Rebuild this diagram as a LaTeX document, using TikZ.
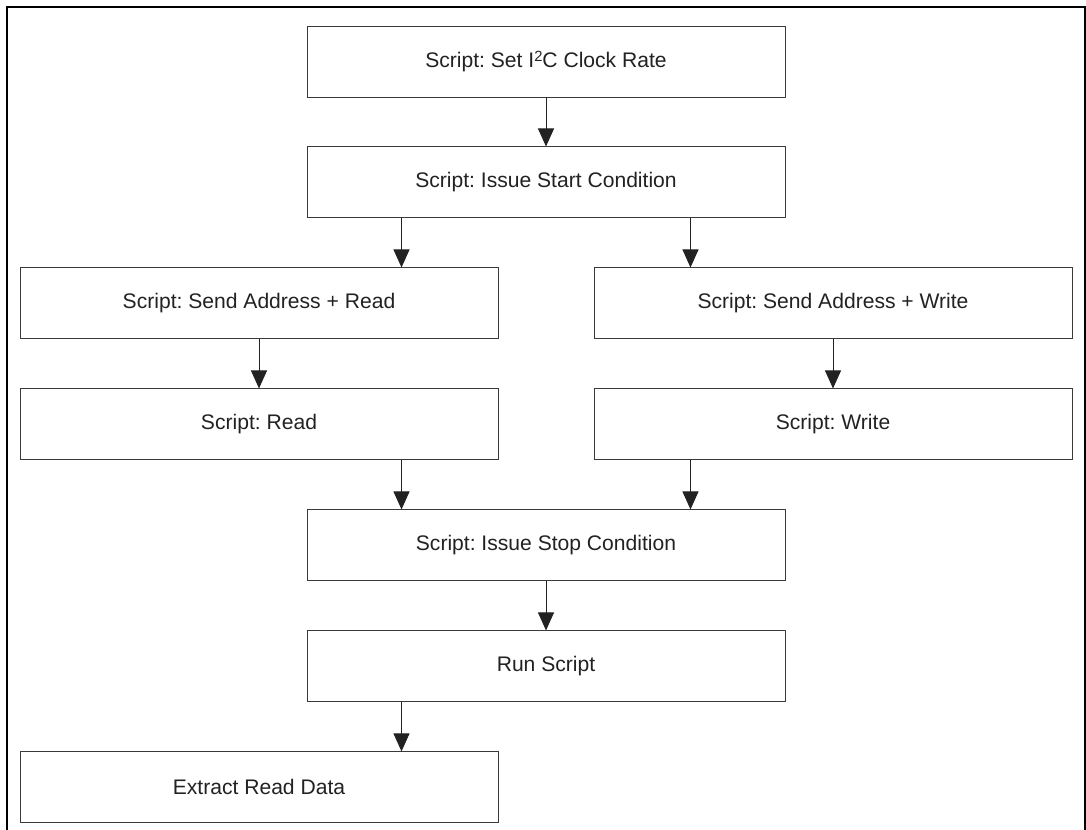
\documentclass[tikz,border=0pt]{standalone}
\usepackage{fontspec}
\setsansfont{Liberation Sans}
\usepackage{xcolor}
\usepackage{tikz}
\usetikzlibrary{arrows.meta, positioning, calc}
\definecolor{boxline}{HTML}{3A3A3A}
\definecolor{textdark}{HTML}{222222}
\frenchspacing

\begin{document}
\begin{tikzpicture}[
  node distance=1.225cm,
  stepbox/.style={rectangle, draw=boxline, line width=0.7pt, minimum width=11.95cm, minimum height=1.775cm, text=textdark, font=\fontsize{15}{18}\selectfont\sffamily},
  arrow/.style={-{Triangle[width=0.4cm, length=0.45cm]}, line width=0.7pt, color=textdark}
]
  \useasboundingbox (0,0) rectangle (27.15,-20.75);

  % Outer frame (open at the bottom)
  \draw[line width=1.6pt] (0.175,-20.8) -- (0.175,-0.175) -- (27.125,-0.175) -- (27.125,-20.8);

  % Main column
  \node[stepbox] (clock) at (13.65,-1.5375) {Script: Set I\raisebox{0.28em}{\fontsize{10.5}{12}\selectfont 2}C Clock Rate};
  \node[stepbox, below=of clock] (start) {Script: Issue Start Condition};

  % Read branch and write branch
  \node[stepbox, below=of start, xshift=-7.175cm] (addrread) {Script: Send Address + Read};
  \node[stepbox, below=of start, xshift=7.175cm] (addrwrite) {Script: Send Address + Write};
  \node[stepbox, below=of addrread] (read) {Script: Read};
  \node[stepbox, below=of addrwrite] (write) {Script: Write};

  % Back to the main column
  \node[stepbox, below=of read, xshift=7.175cm] (stop) {Script: Issue Stop Condition};
  \node[stepbox, below=of stop] (run) {Run Script};
  \node[stepbox, below=of run, xshift=-7.175cm] (extract) {Extract Read Data};

  % Arrow feet
  \coordinate (startl) at ([xshift=2.375cm]start.south west);
  \coordinate (startr) at ([xshift=-2.375cm]start.south east);
  \coordinate (stopl) at ([xshift=2.375cm]stop.north west);
  \coordinate (stopr) at ([xshift=-2.375cm]stop.north east);
  \coordinate (runl) at ([xshift=2.375cm]run.south west);

  % Arrows
  \draw[arrow] (clock) -- (start);
  \draw[arrow] (startl) -- (startl |- addrread.north);
  \draw[arrow] (startr) -- (startr |- addrwrite.north);
  \draw[arrow] (addrread) -- (read);
  \draw[arrow] (addrwrite) -- (write);
  \draw[arrow] (stopl |- read.south) -- (stopl);
  \draw[arrow] (stopr |- write.south) -- (stopr);
  \draw[arrow] (stop) -- (run);
  \draw[arrow] (runl) -- (runl |- extract.north);
\end{tikzpicture}
\end{document}
